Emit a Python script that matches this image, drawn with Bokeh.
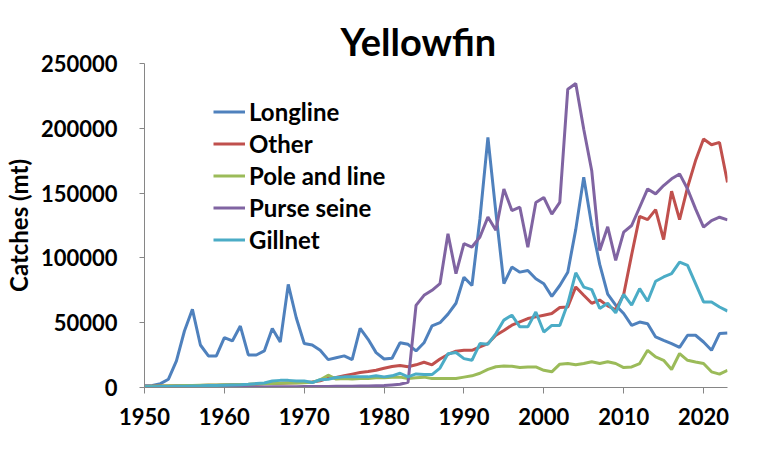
import numpy as np
from bokeh.plotting import figure
from bokeh.models import Range1d, FixedTicker, NumeralTickFormatter, Legend, LegendItem
from bokeh.embed import file_html
from bokeh.resources import INLINE

# Excel 2010 default series colours
color_longline = '#4F81BD'
color_other = '#C0504D'
color_pole = '#9BBB59'
color_purse = '#8064A2'
color_gillnet = '#4BACC6'
color_axis = '#868686'
font = 'Lato'

years = list(range(1950, 2024))

longline = [1300, 1500, 3000, 6400, 20500, 43600, 60300, 32800, 24400, 24400,
            38500, 35900, 47400, 25100, 25100, 28200, 45600, 35100, 79500, 53800,
            34000, 32800, 28700, 21500, 23000, 24400, 21500, 45600, 37200, 26900,
            22000, 22600, 34500, 33300, 28200, 34500, 47600, 50000, 56600, 65000,
            85100, 78700, 130000, 193000, 135000, 80100, 92900, 89000, 90300, 83900,
            80100, 70300, 78700, 89000, 122000, 162200, 125000, 95000, 72000, 63500,
            57100, 48000, 50500, 49200, 39000, 36400, 33900, 31000, 40300, 40300,
            35100, 28700, 41600, 42100]

other = [1000, 1000, 1100, 1200, 1300, 1400, 1500, 1600, 1700, 1800,
         2000, 2100, 2200, 2400, 2600, 2800, 3000, 3200, 3400, 3600,
         3800, 4200, 5100, 7200, 7700, 9000, 10300, 11500, 12300, 13300,
         14900, 16200, 17000, 16000, 17500, 19500, 17500, 22000, 25500, 28000,
         28700, 28700, 31300, 33900, 40300, 44000, 48100, 50700, 53200, 54500,
         55800, 57100, 61700, 62200, 77600, 71200, 65000, 67500, 63000, 60000,
         71800, 102500, 132000, 129500, 137300, 114200, 151500, 129500, 154500, 175100,
         191700, 187300, 189100, 158300]

pole_and_line = [800, 1000, 1200, 1300, 1400, 1500, 1600, 1800, 1900, 2000,
                 2100, 2200, 2400, 2500, 2700, 2900, 3000, 3200, 3400, 3500,
                 3600, 4000, 6000, 9500, 6500, 7000, 6500, 7000, 7000, 7500,
                 7500, 8000, 8000, 7000, 7500, 8000, 7000, 7000, 7000, 7000,
                 8000, 9000, 11000, 14000, 16000, 16500, 16400, 15400, 15900, 15900,
                 13300, 12100, 18000, 18500, 17500, 18500, 19800, 18500, 19800, 18500,
                 15400, 15900, 18500, 28700, 23600, 21000, 13900, 26200, 21000, 19700,
                 18500, 12100, 10300, 13300]

purse_seine = [0, 0, 0, 0, 0, 0, 100, 100, 100, 200,
               200, 300, 300, 300, 400, 400, 500, 500, 600, 600,
               700, 700, 800, 800, 900, 1000, 1000, 1200, 1200, 1400,
               1500, 2000, 2500, 4000, 63400, 71100, 75000, 80100, 118600, 87900,
               111000, 108400, 116100, 131500, 121300, 153200, 136500, 139100, 108300, 142800,
               146600, 133800, 142800, 230200, 234500, 199300, 167300, 105700, 124000, 98100,
               119900, 125000, 139100, 153200, 149400, 155800, 161000, 164800, 153200, 137800,
               123700, 128800, 131400, 129300]

gillnet = [500, 600, 700, 800, 900, 1000, 1200, 1300, 1500, 1600,
           1800, 2000, 2200, 2500, 3000, 3500, 5000, 5500, 5500, 5000,
           5000, 3800, 6000, 6400, 7700, 8200, 8200, 8200, 8200, 9000,
           8200, 9000, 11000, 8200, 10500, 10000, 10000, 15000, 26000, 27000,
           22300, 21000, 33900, 33400, 41600, 52000, 55800, 46800, 46800, 58300,
           42800, 47900, 47900, 64800, 88500, 77500, 75500, 61000, 65000, 57600,
           71800, 63500, 76300, 66500, 82000, 85300, 87800, 96800, 94200, 80100,
           66000, 66000, 62100, 59000]

series_names = ['Longline', 'Other', 'Pole and line', 'Purse seine', 'Gillnet']
series_values = [longline, other, pole_and_line, purse_seine, gillnet]
series_colors = [color_longline, color_other, color_pole, color_purse, color_gillnet]

x_ticks = [1950, 1960, 1970, 1980, 1990, 2000, 2010, 2020]
y_ticks = [0, 50000, 100000, 150000, 200000, 250000]


def make_plot():
    ############################################################
    p = figure(width=768, height=455, output_backend='svg', toolbar_location=None,
               min_border_left=137, min_border_right=41, min_border_top=63, min_border_bottom=68)
    p.x_range = Range1d(1950, 2023)
    p.y_range = Range1d(0, 250000)
    p.outline_line_color = None
    p.grid.visible = False
    p.background_fill_color = 'white'
    # ------------------------
    p.title.text = 'Yellowfin'
    p.title.align = 'left'
    p.title.offset = 196
    p.title.standoff = 0
    p.title.text_font = font
    p.title.text_font_style = 'bold'
    p.title.text_font_size = '38px'
    p.title.text_color = 'black'
    # ------------------------
    items = []
    for name, vals, col in zip(series_names, series_values, series_colors):
        r = p.line(np.array(years), np.array(vals), line_width=3, color=col)
        items.append(LegendItem(label=name, renderers=[r]))
    # ------------------------
    legend = Legend(items=items, location=(69, 133))
    legend.padding = 0
    legend.margin = 0
    legend.spacing = 3
    legend.glyph_width = 32
    legend.glyph_height = 23
    legend.label_height = 23
    legend.label_standoff = 4
    legend.border_line_color = None
    legend.background_fill_alpha = 0
    legend.label_text_font = font
    legend.label_text_font_style = 'bold'
    legend.label_text_font_size = '24px'
    legend.label_text_color = 'black'
    p.add_layout(legend, 'center')
    # ------------------------
    p.xaxis.ticker = FixedTicker(ticks=x_ticks)
    p.yaxis.ticker = FixedTicker(ticks=y_ticks)
    p.yaxis.formatter = NumeralTickFormatter(format='0')
    p.yaxis.axis_label = 'Catches (mt)'
    p.yaxis.axis_label_text_font = font
    p.yaxis.axis_label_text_font_style = 'bold'
    p.yaxis.axis_label_text_font_size = '24px'
    p.yaxis.axis_label_text_color = 'black'
    p.yaxis.axis_label_standoff = 5
    p.axis.major_label_text_font = font
    p.axis.major_label_text_font_style = 'bold'
    p.axis.major_label_text_font_size = '22px'
    p.axis.major_label_text_color = 'black'
    p.axis.axis_line_color = color_axis
    p.axis.major_tick_line_color = color_axis
    p.axis.minor_tick_line_color = None
    p.axis.major_tick_in = 0
    p.xaxis.major_tick_out = 6
    p.yaxis.major_tick_out = 5
    p.xaxis.major_label_standoff = 14
    p.yaxis.major_label_standoff = 22
    ############################################################
    return p


p = make_plot()
open("out.html", "w").write(file_html(p, INLINE))
